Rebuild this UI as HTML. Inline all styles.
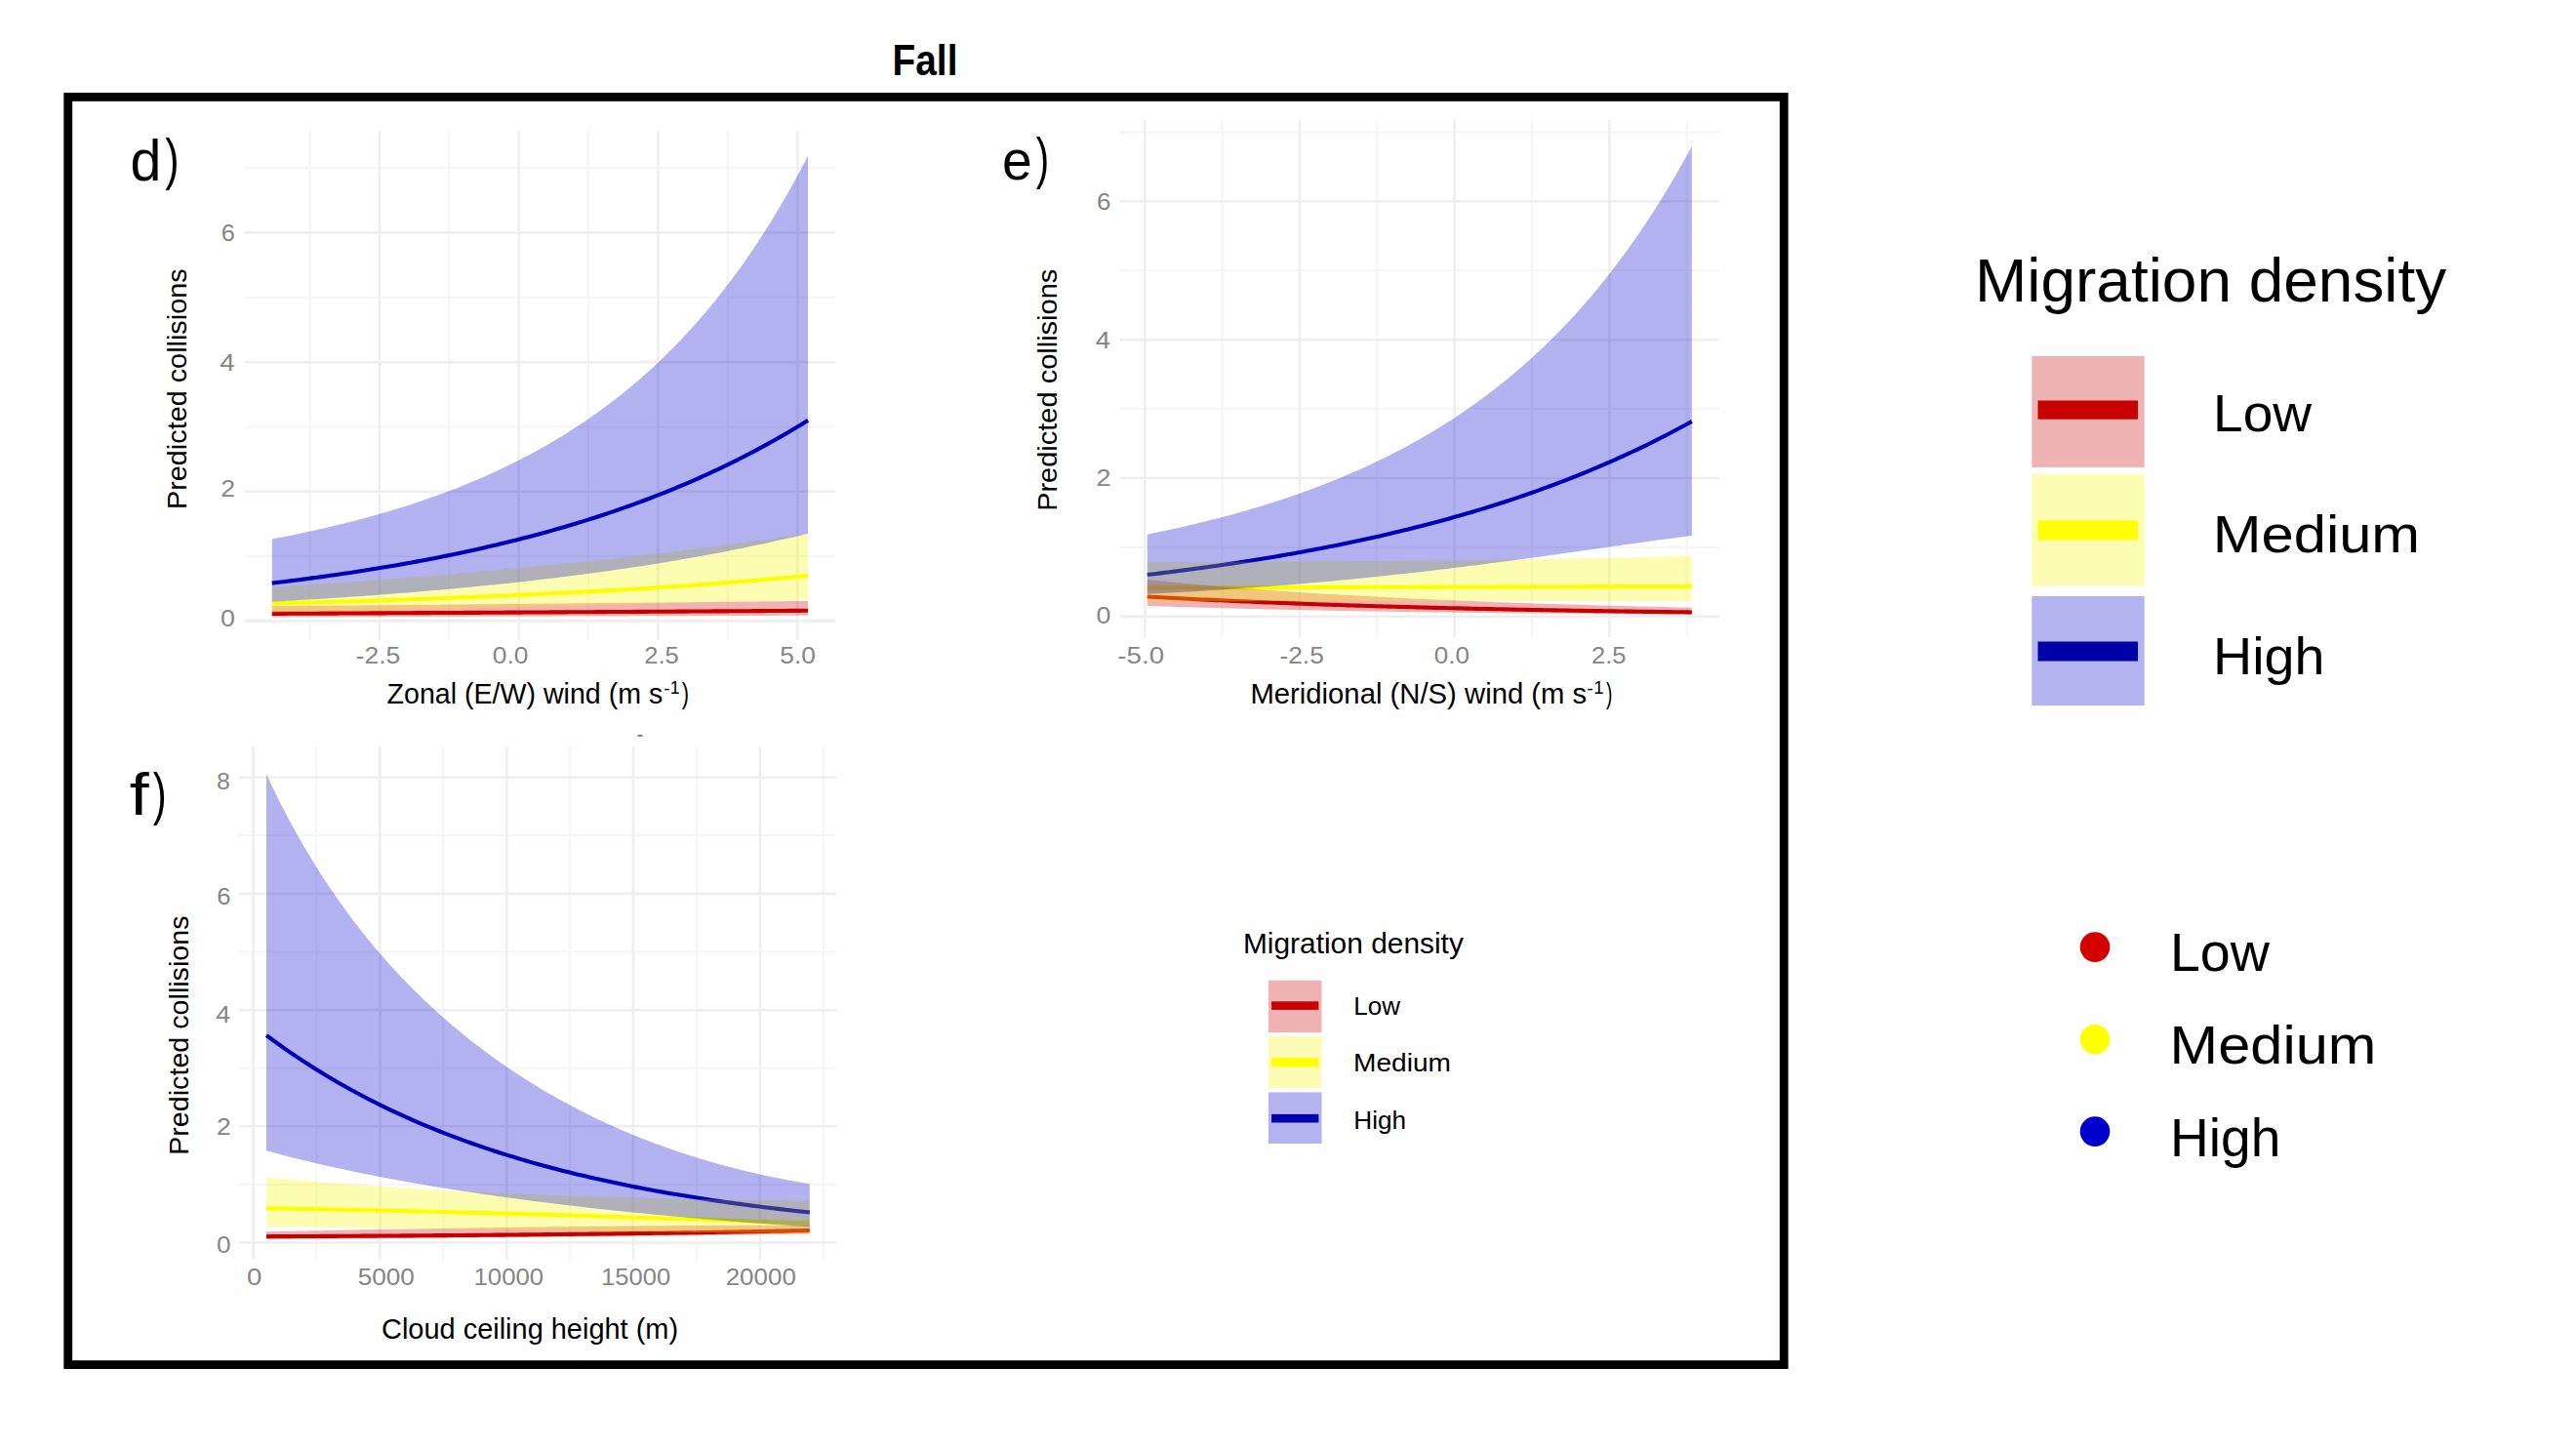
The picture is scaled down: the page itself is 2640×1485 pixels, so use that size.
<!DOCTYPE html>
<html><head><meta charset="utf-8"><title>Fall</title>
<style>html,body{margin:0;padding:0;background:#fff;}body{width:2640px;height:1485px;overflow:hidden;font-family:"Liberation Sans",sans-serif;}svg{display:block;}</style>
</head><body>
<svg width="2640" height="1485" viewBox="0 0 2640 1485" font-family="'Liberation Sans', sans-serif">
<rect x="0" y="0" width="2640" height="1485" fill="#fff"/>
<line x1="317.58" y1="134.5" x2="317.58" y2="656" stroke="#F5F5F5" stroke-width="2"/>
<line x1="460.33" y1="134.5" x2="460.33" y2="656" stroke="#F5F5F5" stroke-width="2"/>
<line x1="603.08" y1="134.5" x2="603.08" y2="656" stroke="#F5F5F5" stroke-width="2"/>
<line x1="745.83" y1="134.5" x2="745.83" y2="656" stroke="#F5F5F5" stroke-width="2"/>
<line x1="250.4" y1="570.07" x2="856" y2="570.07" stroke="#F5F5F5" stroke-width="2"/>
<line x1="250.4" y1="437.41" x2="856" y2="437.41" stroke="#F5F5F5" stroke-width="2"/>
<line x1="250.4" y1="304.75" x2="856" y2="304.75" stroke="#F5F5F5" stroke-width="2"/>
<line x1="250.4" y1="172.09" x2="856" y2="172.09" stroke="#F5F5F5" stroke-width="2"/>
<line x1="388.95" y1="134.5" x2="388.95" y2="656" stroke="#EEEEEE" stroke-width="2.6"/>
<line x1="531.70" y1="134.5" x2="531.70" y2="656" stroke="#EEEEEE" stroke-width="2.6"/>
<line x1="674.45" y1="134.5" x2="674.45" y2="656" stroke="#EEEEEE" stroke-width="2.6"/>
<line x1="817.20" y1="134.5" x2="817.20" y2="656" stroke="#EEEEEE" stroke-width="2.6"/>
<line x1="250.4" y1="636.40" x2="856" y2="636.40" stroke="#EEEEEE" stroke-width="2.6"/>
<line x1="250.4" y1="503.74" x2="856" y2="503.74" stroke="#EEEEEE" stroke-width="2.6"/>
<line x1="250.4" y1="371.08" x2="856" y2="371.08" stroke="#EEEEEE" stroke-width="2.6"/>
<line x1="250.4" y1="238.42" x2="856" y2="238.42" stroke="#EEEEEE" stroke-width="2.6"/>
<polyline points="278.75,628.90 283.36,628.88 287.98,628.86 292.59,628.84 297.21,628.82 301.83,628.79 306.44,628.77 311.06,628.75 315.67,628.73 320.29,628.70 324.91,628.68 329.52,628.66 334.14,628.64 338.75,628.61 343.37,628.59 347.99,628.57 352.60,628.55 357.22,628.52 361.83,628.50 366.45,628.48 371.07,628.45 375.68,628.43 380.30,628.41 384.91,628.38 389.53,628.36 394.15,628.34 398.76,628.31 403.38,628.29 407.99,628.27 412.61,628.24 417.23,628.22 421.84,628.19 426.46,628.17 431.07,628.15 435.69,628.12 440.31,628.10 444.92,628.07 449.54,628.05 454.15,628.02 458.77,628.00 463.39,627.98 468.00,627.95 472.62,627.93 477.23,627.90 481.85,627.88 486.47,627.85 491.08,627.83 495.70,627.80 500.31,627.78 504.93,627.75 509.55,627.73 514.16,627.70 518.78,627.67 523.39,627.65 528.01,627.62 532.63,627.60 537.24,627.57 541.86,627.55 546.47,627.52 551.09,627.49 555.71,627.47 560.32,627.44 564.94,627.42 569.55,627.39 574.17,627.36 578.79,627.34 583.40,627.31 588.02,627.28 592.63,627.26 597.25,627.23 601.87,627.20 606.48,627.18 611.10,627.15 615.71,627.12 620.33,627.10 624.95,627.07 629.56,627.04 634.18,627.01 638.79,626.99 643.41,626.96 648.03,626.93 652.64,626.90 657.26,626.87 661.87,626.85 666.49,626.82 671.11,626.79 675.72,626.76 680.34,626.73 684.95,626.71 689.57,626.68 694.19,626.65 698.80,626.62 703.42,626.59 708.03,626.56 712.65,626.53 717.27,626.51 721.88,626.48 726.50,626.45 731.11,626.42 735.73,626.39 740.35,626.36 744.96,626.33 749.58,626.30 754.19,626.27 758.81,626.24 763.43,626.21 768.04,626.18 772.66,626.15 777.27,626.12 781.89,626.09 786.51,626.06 791.12,626.03 795.74,626.00 800.35,625.97 804.97,625.94 809.59,625.91 814.20,625.88 818.82,625.85 823.43,625.82 828.05,625.79" fill="none" stroke="#C30000" stroke-width="4.1" stroke-linejoin="round"/>
<polyline points="278.75,618.49 283.36,618.37 287.98,618.26 292.59,618.14 297.21,618.02 301.83,617.90 306.44,617.78 311.06,617.65 315.67,617.53 320.29,617.40 324.91,617.27 329.52,617.14 334.14,617.01 338.75,616.88 343.37,616.75 347.99,616.61 352.60,616.48 357.22,616.34 361.83,616.20 366.45,616.06 371.07,615.92 375.68,615.78 380.30,615.63 384.91,615.48 389.53,615.34 394.15,615.19 398.76,615.03 403.38,614.88 407.99,614.73 412.61,614.57 417.23,614.41 421.84,614.25 426.46,614.09 431.07,613.93 435.69,613.76 440.31,613.60 444.92,613.43 449.54,613.26 454.15,613.08 458.77,612.91 463.39,612.73 468.00,612.55 472.62,612.37 477.23,612.19 481.85,612.01 486.47,611.82 491.08,611.63 495.70,611.44 500.31,611.25 504.93,611.05 509.55,610.86 514.16,610.66 518.78,610.46 523.39,610.25 528.01,610.05 532.63,609.84 537.24,609.63 541.86,609.41 546.47,609.20 551.09,608.98 555.71,608.76 560.32,608.54 564.94,608.31 569.55,608.08 574.17,607.85 578.79,607.62 583.40,607.38 588.02,607.15 592.63,606.90 597.25,606.66 601.87,606.41 606.48,606.16 611.10,605.91 615.71,605.66 620.33,605.40 624.95,605.14 629.56,604.87 634.18,604.60 638.79,604.33 643.41,604.06 648.03,603.78 652.64,603.50 657.26,603.22 661.87,602.93 666.49,602.64 671.11,602.35 675.72,602.05 680.34,601.75 684.95,601.45 689.57,601.14 694.19,600.83 698.80,600.51 703.42,600.19 708.03,599.87 712.65,599.54 717.27,599.21 721.88,598.88 726.50,598.54 731.11,598.20 735.73,597.85 740.35,597.50 744.96,597.15 749.58,596.79 754.19,596.42 758.81,596.06 763.43,595.68 768.04,595.31 772.66,594.93 777.27,594.54 781.89,594.15 786.51,593.75 791.12,593.35 795.74,592.95 800.35,592.54 804.97,592.12 809.59,591.70 814.20,591.28 818.82,590.85 823.43,590.41 828.05,589.97" fill="none" stroke="#FFFF00" stroke-width="4.1" stroke-linejoin="round"/>
<polyline points="278.75,597.60 283.36,597.05 287.98,596.49 292.59,595.93 297.21,595.36 301.83,594.78 306.44,594.19 311.06,593.60 315.67,592.99 320.29,592.38 324.91,591.76 329.52,591.13 334.14,590.49 338.75,589.84 343.37,589.19 347.99,588.52 352.60,587.84 357.22,587.16 361.83,586.46 366.45,585.76 371.07,585.04 375.68,584.32 380.30,583.58 384.91,582.84 389.53,582.08 394.15,581.32 398.76,580.54 403.38,579.75 407.99,578.95 412.61,578.14 417.23,577.32 421.84,576.49 426.46,575.64 431.07,574.78 435.69,573.91 440.31,573.03 444.92,572.14 449.54,571.23 454.15,570.31 458.77,569.38 463.39,568.43 468.00,567.47 472.62,566.50 477.23,565.51 481.85,564.51 486.47,563.50 491.08,562.47 495.70,561.43 500.31,560.37 504.93,559.30 509.55,558.21 514.16,557.10 518.78,555.99 523.39,554.85 528.01,553.70 532.63,552.53 537.24,551.35 541.86,550.15 546.47,548.93 551.09,547.70 555.71,546.45 560.32,545.18 564.94,543.89 569.55,542.58 574.17,541.26 578.79,539.92 583.40,538.56 588.02,537.17 592.63,535.77 597.25,534.35 601.87,532.91 606.48,531.45 611.10,529.97 615.71,528.47 620.33,526.95 624.95,525.40 629.56,523.84 634.18,522.25 638.79,520.64 643.41,519.00 648.03,517.35 652.64,515.67 657.26,513.96 661.87,512.24 666.49,510.48 671.11,508.71 675.72,506.91 680.34,505.08 684.95,503.23 689.57,501.35 694.19,499.44 698.80,497.51 703.42,495.55 708.03,493.56 712.65,491.54 717.27,489.50 721.88,487.43 726.50,485.33 731.11,483.19 735.73,481.03 740.35,478.84 744.96,476.62 749.58,474.36 754.19,472.07 758.81,469.76 763.43,467.40 768.04,465.02 772.66,462.60 777.27,460.15 781.89,457.66 786.51,455.14 791.12,452.58 795.74,449.99 800.35,447.36 804.97,444.69 809.59,441.98 814.20,439.24 818.82,436.46 823.43,433.64 828.05,430.78" fill="none" stroke="#0000B0" stroke-width="4.1" stroke-linejoin="round"/>
<polygon points="278.75,621.14 283.36,621.11 287.98,621.07 292.59,621.03 297.21,620.99 301.83,620.95 306.44,620.91 311.06,620.87 315.67,620.83 320.29,620.80 324.91,620.76 329.52,620.72 334.14,620.68 338.75,620.64 343.37,620.60 347.99,620.56 352.60,620.52 357.22,620.48 361.83,620.44 366.45,620.40 371.07,620.36 375.68,620.32 380.30,620.28 384.91,620.24 389.53,620.20 394.15,620.16 398.76,620.12 403.38,620.08 407.99,620.03 412.61,619.99 417.23,619.95 421.84,619.91 426.46,619.87 431.07,619.83 435.69,619.79 440.31,619.74 444.92,619.70 449.54,619.66 454.15,619.62 458.77,619.58 463.39,619.53 468.00,619.49 472.62,619.45 477.23,619.41 481.85,619.36 486.47,619.32 491.08,619.28 495.70,619.24 500.31,619.19 504.93,619.15 509.55,619.11 514.16,619.06 518.78,619.02 523.39,618.97 528.01,618.93 532.63,618.89 537.24,618.84 541.86,618.80 546.47,618.76 551.09,618.71 555.71,618.67 560.32,618.62 564.94,618.58 569.55,618.53 574.17,618.49 578.79,618.44 583.40,618.40 588.02,618.35 592.63,618.31 597.25,618.26 601.87,618.22 606.48,618.17 611.10,618.12 615.71,618.08 620.33,618.03 624.95,617.99 629.56,617.94 634.18,617.89 638.79,617.85 643.41,617.80 648.03,617.75 652.64,617.71 657.26,617.66 661.87,617.61 666.49,617.57 671.11,617.52 675.72,617.47 680.34,617.42 684.95,617.38 689.57,617.33 694.19,617.28 698.80,617.23 703.42,617.18 708.03,617.14 712.65,617.09 717.27,617.04 721.88,616.99 726.50,616.94 731.11,616.89 735.73,616.84 740.35,616.79 744.96,616.75 749.58,616.70 754.19,616.65 758.81,616.60 763.43,616.55 768.04,616.50 772.66,616.45 777.27,616.40 781.89,616.35 786.51,616.30 791.12,616.25 795.74,616.20 800.35,616.14 804.97,616.09 809.59,616.04 814.20,615.99 818.82,615.94 823.43,615.89 828.05,615.84 828.05,630.76 823.43,630.78 818.82,630.79 814.20,630.81 809.59,630.83 804.97,630.84 800.35,630.86 795.74,630.88 791.12,630.89 786.51,630.91 781.89,630.92 777.27,630.94 772.66,630.96 768.04,630.97 763.43,630.99 758.81,631.00 754.19,631.02 749.58,631.04 744.96,631.05 740.35,631.07 735.73,631.08 731.11,631.10 726.50,631.11 721.88,631.13 717.27,631.14 712.65,631.16 708.03,631.18 703.42,631.19 698.80,631.21 694.19,631.22 689.57,631.24 684.95,631.25 680.34,631.27 675.72,631.28 671.11,631.30 666.49,631.31 661.87,631.33 657.26,631.34 652.64,631.36 648.03,631.37 643.41,631.38 638.79,631.40 634.18,631.41 629.56,631.43 624.95,631.44 620.33,631.46 615.71,631.47 611.10,631.49 606.48,631.50 601.87,631.52 597.25,631.53 592.63,631.54 588.02,631.56 583.40,631.57 578.79,631.59 574.17,631.60 569.55,631.61 564.94,631.63 560.32,631.64 555.71,631.66 551.09,631.67 546.47,631.68 541.86,631.70 537.24,631.71 532.63,631.73 528.01,631.74 523.39,631.75 518.78,631.77 514.16,631.78 509.55,631.79 504.93,631.81 500.31,631.82 495.70,631.83 491.08,631.85 486.47,631.86 481.85,631.87 477.23,631.89 472.62,631.90 468.00,631.91 463.39,631.93 458.77,631.94 454.15,631.95 449.54,631.96 444.92,631.98 440.31,631.99 435.69,632.00 431.07,632.02 426.46,632.03 421.84,632.04 417.23,632.05 412.61,632.07 407.99,632.08 403.38,632.09 398.76,632.11 394.15,632.12 389.53,632.13 384.91,632.14 380.30,632.16 375.68,632.17 371.07,632.18 366.45,632.19 361.83,632.20 357.22,632.22 352.60,632.23 347.99,632.24 343.37,632.25 338.75,632.27 334.14,632.28 329.52,632.29 324.91,632.30 320.29,632.31 315.67,632.33 311.06,632.34 306.44,632.35 301.83,632.36 297.21,632.37 292.59,632.39 287.98,632.40 283.36,632.41 278.75,632.42" fill="#CD0000" fill-opacity="0.3"/>
<polygon points="278.75,601.51 283.36,601.22 287.98,600.93 292.59,600.64 297.21,600.35 301.83,600.05 306.44,599.75 311.06,599.45 315.67,599.15 320.29,598.84 324.91,598.53 329.52,598.22 334.14,597.91 338.75,597.60 343.37,597.28 347.99,596.96 352.60,596.64 357.22,596.31 361.83,595.99 366.45,595.66 371.07,595.32 375.68,594.99 380.30,594.65 384.91,594.31 389.53,593.97 394.15,593.63 398.76,593.28 403.38,592.93 407.99,592.58 412.61,592.22 417.23,591.86 421.84,591.50 426.46,591.14 431.07,590.77 435.69,590.41 440.31,590.03 444.92,589.66 449.54,589.28 454.15,588.90 458.77,588.52 463.39,588.14 468.00,587.75 472.62,587.36 477.23,586.96 481.85,586.57 486.47,586.17 491.08,585.76 495.70,585.36 500.31,584.95 504.93,584.54 509.55,584.12 514.16,583.70 518.78,583.28 523.39,582.86 528.01,582.43 532.63,582.00 537.24,581.57 541.86,581.13 546.47,580.69 551.09,580.25 555.71,579.80 560.32,579.35 564.94,578.90 569.55,578.44 574.17,577.98 578.79,577.52 583.40,577.05 588.02,576.58 592.63,576.11 597.25,575.63 601.87,575.15 606.48,574.67 611.10,574.18 615.71,573.69 620.33,573.19 624.95,572.70 629.56,572.19 634.18,571.69 638.79,571.18 643.41,570.67 648.03,570.15 652.64,569.63 657.26,569.11 661.87,568.58 666.49,568.05 671.11,567.51 675.72,566.97 680.34,566.43 684.95,565.88 689.57,565.33 694.19,564.78 698.80,564.22 703.42,563.66 708.03,563.09 712.65,562.52 717.27,561.95 721.88,561.37 726.50,560.78 731.11,560.20 735.73,559.60 740.35,559.01 744.96,558.41 749.58,557.81 754.19,557.20 758.81,556.58 763.43,555.97 768.04,555.35 772.66,554.72 777.27,554.09 781.89,553.45 786.51,552.81 791.12,552.17 795.74,551.52 800.35,550.87 804.97,550.21 809.59,549.55 814.20,548.88 818.82,548.21 823.43,547.54 828.05,546.85 828.05,614.51 823.43,614.64 818.82,614.76 814.20,614.89 809.59,615.01 804.97,615.14 800.35,615.26 795.74,615.39 791.12,615.51 786.51,615.64 781.89,615.76 777.27,615.89 772.66,616.01 768.04,616.14 763.43,616.26 758.81,616.38 754.19,616.51 749.58,616.63 744.96,616.75 740.35,616.88 735.73,617.00 731.11,617.12 726.50,617.25 721.88,617.37 717.27,617.49 712.65,617.61 708.03,617.73 703.42,617.85 698.80,617.98 694.19,618.10 689.57,618.22 684.95,618.34 680.34,618.46 675.72,618.58 671.11,618.70 666.49,618.82 661.87,618.94 657.26,619.05 652.64,619.17 648.03,619.29 643.41,619.41 638.79,619.53 634.18,619.64 629.56,619.76 624.95,619.88 620.33,619.99 615.71,620.11 611.10,620.23 606.48,620.34 601.87,620.46 597.25,620.57 592.63,620.68 588.02,620.80 583.40,620.91 578.79,621.03 574.17,621.14 569.55,621.25 564.94,621.36 560.32,621.47 555.71,621.59 551.09,621.70 546.47,621.81 541.86,621.92 537.24,622.03 532.63,622.14 528.01,622.24 523.39,622.35 518.78,622.46 514.16,622.57 509.55,622.68 504.93,622.78 500.31,622.89 495.70,622.99 491.08,623.10 486.47,623.21 481.85,623.31 477.23,623.41 472.62,623.52 468.00,623.62 463.39,623.72 458.77,623.83 454.15,623.93 449.54,624.03 444.92,624.13 440.31,624.23 435.69,624.33 431.07,624.43 426.46,624.53 421.84,624.63 417.23,624.73 412.61,624.82 407.99,624.92 403.38,625.02 398.76,625.11 394.15,625.21 389.53,625.31 384.91,625.40 380.30,625.49 375.68,625.59 371.07,625.68 366.45,625.78 361.83,625.87 357.22,625.96 352.60,626.05 347.99,626.14 343.37,626.23 338.75,626.32 334.14,626.41 329.52,626.50 324.91,626.59 320.29,626.68 315.67,626.76 311.06,626.85 306.44,626.94 301.83,627.02 297.21,627.11 292.59,627.19 287.98,627.28 283.36,627.36 278.75,627.45" fill="#F8F800" fill-opacity="0.3"/>
<polygon points="278.75,552.50 283.36,551.62 287.98,550.73 292.59,549.82 297.21,548.90 301.83,547.96 306.44,547.00 311.06,546.03 315.67,545.04 320.29,544.03 324.91,543.01 329.52,541.96 334.14,540.90 338.75,539.82 343.37,538.72 347.99,537.61 352.60,536.47 357.22,535.31 361.83,534.13 366.45,532.93 371.07,531.70 375.68,530.46 380.30,529.19 384.91,527.90 389.53,526.59 394.15,525.25 398.76,523.89 403.38,522.51 407.99,521.10 412.61,519.66 417.23,518.20 421.84,516.71 426.46,515.19 431.07,513.64 435.69,512.07 440.31,510.46 444.92,508.83 449.54,507.17 454.15,505.47 458.77,503.75 463.39,501.99 468.00,500.20 472.62,498.37 477.23,496.51 481.85,494.62 486.47,492.69 491.08,490.72 495.70,488.72 500.31,486.67 504.93,484.59 509.55,482.47 514.16,480.31 518.78,478.10 523.39,475.85 528.01,473.56 532.63,471.23 537.24,468.85 541.86,466.42 546.47,463.95 551.09,461.42 555.71,458.85 560.32,456.23 564.94,453.55 569.55,450.82 574.17,448.04 578.79,445.20 583.40,442.31 588.02,439.36 592.63,436.35 597.25,433.27 601.87,430.14 606.48,426.94 611.10,423.68 615.71,420.35 620.33,416.96 624.95,413.49 629.56,409.96 634.18,406.35 638.79,402.66 643.41,398.90 648.03,395.07 652.64,391.15 657.26,387.15 661.87,383.07 666.49,378.91 671.11,374.65 675.72,370.31 680.34,365.88 684.95,361.35 689.57,356.72 694.19,352.00 698.80,347.18 703.42,342.25 708.03,337.22 712.65,332.09 717.27,326.84 721.88,321.47 726.50,316.00 731.11,310.40 735.73,304.68 740.35,298.84 744.96,292.87 749.58,286.77 754.19,280.53 758.81,274.16 763.43,267.65 768.04,260.99 772.66,254.19 777.27,247.24 781.89,240.12 786.51,232.86 791.12,225.42 795.74,217.82 800.35,210.05 804.97,202.11 809.59,193.98 814.20,185.67 818.82,177.17 823.43,168.48 828.05,159.59 828.05,546.85 823.43,547.97 818.82,549.06 814.20,550.15 809.59,551.22 804.97,552.28 800.35,553.32 795.74,554.35 791.12,555.37 786.51,556.38 781.89,557.38 777.27,558.36 772.66,559.33 768.04,560.29 763.43,561.24 758.81,562.17 754.19,563.10 749.58,564.01 744.96,564.92 740.35,565.81 735.73,566.69 731.11,567.56 726.50,568.42 721.88,569.27 717.27,570.11 712.65,570.94 708.03,571.76 703.42,572.56 698.80,573.36 694.19,574.15 689.57,574.93 684.95,575.70 680.34,576.46 675.72,577.21 671.11,577.95 666.49,578.69 661.87,579.41 657.26,580.13 652.64,580.83 648.03,581.53 643.41,582.22 638.79,582.90 634.18,583.57 629.56,584.24 624.95,584.89 620.33,585.54 615.71,586.18 611.10,586.81 606.48,587.44 601.87,588.06 597.25,588.66 592.63,589.27 588.02,589.86 583.40,590.45 578.79,591.03 574.17,591.60 569.55,592.17 564.94,592.73 560.32,593.28 555.71,593.82 551.09,594.36 546.47,594.89 541.86,595.42 537.24,595.94 532.63,596.45 528.01,596.95 523.39,597.45 518.78,597.95 514.16,598.43 509.55,598.92 504.93,599.39 500.31,599.86 495.70,600.32 491.08,600.78 486.47,601.24 481.85,601.68 477.23,602.12 472.62,602.56 468.00,602.99 463.39,603.41 458.77,603.83 454.15,604.25 449.54,604.66 444.92,605.06 440.31,605.46 435.69,605.86 431.07,606.25 426.46,606.63 421.84,607.01 417.23,607.38 412.61,607.75 407.99,608.12 403.38,608.48 398.76,608.84 394.15,609.19 389.53,609.54 384.91,609.88 380.30,610.22 375.68,610.56 371.07,610.89 366.45,611.21 361.83,611.54 357.22,611.86 352.60,612.17 347.99,612.48 343.37,612.79 338.75,613.09 334.14,613.39 329.52,613.68 324.91,613.98 320.29,614.26 315.67,614.55 311.06,614.83 306.44,615.11 301.83,615.38 297.21,615.65 292.59,615.92 287.98,616.18 283.36,616.44 278.75,616.70" fill="#0000CD" fill-opacity="0.3"/>
<line x1="1252.61" y1="122.8" x2="1252.61" y2="653.3" stroke="#F5F5F5" stroke-width="2"/>
<line x1="1411.34" y1="122.8" x2="1411.34" y2="653.3" stroke="#F5F5F5" stroke-width="2"/>
<line x1="1570.06" y1="122.8" x2="1570.06" y2="653.3" stroke="#F5F5F5" stroke-width="2"/>
<line x1="1728.79" y1="122.8" x2="1728.79" y2="653.3" stroke="#F5F5F5" stroke-width="2"/>
<line x1="1147.6" y1="560.97" x2="1761.5" y2="560.97" stroke="#F5F5F5" stroke-width="2"/>
<line x1="1147.6" y1="419.11" x2="1761.5" y2="419.11" stroke="#F5F5F5" stroke-width="2"/>
<line x1="1147.6" y1="277.25" x2="1761.5" y2="277.25" stroke="#F5F5F5" stroke-width="2"/>
<line x1="1147.6" y1="135.39" x2="1761.5" y2="135.39" stroke="#F5F5F5" stroke-width="2"/>
<line x1="1173.25" y1="122.8" x2="1173.25" y2="653.3" stroke="#EEEEEE" stroke-width="2.6"/>
<line x1="1331.98" y1="122.8" x2="1331.98" y2="653.3" stroke="#EEEEEE" stroke-width="2.6"/>
<line x1="1490.70" y1="122.8" x2="1490.70" y2="653.3" stroke="#EEEEEE" stroke-width="2.6"/>
<line x1="1649.42" y1="122.8" x2="1649.42" y2="653.3" stroke="#EEEEEE" stroke-width="2.6"/>
<line x1="1147.6" y1="631.90" x2="1761.5" y2="631.90" stroke="#EEEEEE" stroke-width="2.6"/>
<line x1="1147.6" y1="490.04" x2="1761.5" y2="490.04" stroke="#EEEEEE" stroke-width="2.6"/>
<line x1="1147.6" y1="348.18" x2="1761.5" y2="348.18" stroke="#EEEEEE" stroke-width="2.6"/>
<line x1="1147.6" y1="206.32" x2="1761.5" y2="206.32" stroke="#EEEEEE" stroke-width="2.6"/>
<polyline points="1175.79,611.48 1180.48,611.74 1185.17,612.00 1189.86,612.26 1194.55,612.51 1199.24,612.77 1203.93,613.01 1208.62,613.26 1213.31,613.50 1218.00,613.74 1222.69,613.97 1227.38,614.21 1232.07,614.43 1236.76,614.66 1241.45,614.88 1246.14,615.10 1250.83,615.32 1255.51,615.53 1260.20,615.74 1264.89,615.95 1269.58,616.16 1274.27,616.36 1278.96,616.56 1283.65,616.76 1288.34,616.95 1293.03,617.15 1297.72,617.33 1302.41,617.52 1307.10,617.71 1311.79,617.89 1316.48,618.07 1321.17,618.25 1325.86,618.42 1330.55,618.59 1335.24,618.77 1339.93,618.93 1344.62,619.10 1349.31,619.26 1354.00,619.43 1358.69,619.58 1363.38,619.74 1368.07,619.90 1372.76,620.05 1377.45,620.20 1382.14,620.35 1386.83,620.50 1391.52,620.64 1396.21,620.79 1400.90,620.93 1405.59,621.07 1410.28,621.21 1414.97,621.34 1419.66,621.48 1424.34,621.61 1429.03,621.74 1433.72,621.87 1438.41,622.00 1443.10,622.12 1447.79,622.25 1452.48,622.37 1457.17,622.49 1461.86,622.61 1466.55,622.73 1471.24,622.84 1475.93,622.96 1480.62,623.07 1485.31,623.18 1490.00,623.29 1494.69,623.40 1499.38,623.51 1504.07,623.62 1508.76,623.72 1513.45,623.83 1518.14,623.93 1522.83,624.03 1527.52,624.13 1532.21,624.22 1536.90,624.32 1541.59,624.42 1546.28,624.51 1550.97,624.60 1555.66,624.70 1560.35,624.79 1565.04,624.88 1569.73,624.96 1574.42,625.05 1579.11,625.14 1583.80,625.22 1588.49,625.31 1593.17,625.39 1597.86,625.47 1602.55,625.55 1607.24,625.63 1611.93,625.71 1616.62,625.79 1621.31,625.86 1626.00,625.94 1630.69,626.01 1635.38,626.09 1640.07,626.16 1644.76,626.23 1649.45,626.30 1654.14,626.37 1658.83,626.44 1663.52,626.51 1668.21,626.58 1672.90,626.64 1677.59,626.71 1682.28,626.77 1686.97,626.84 1691.66,626.90 1696.35,626.96 1701.04,627.02 1705.73,627.08 1710.42,627.14 1715.11,627.20 1719.80,627.26 1724.49,627.32 1729.18,627.38 1733.87,627.43" fill="none" stroke="#C30000" stroke-width="4.1" stroke-linejoin="round"/>
<polyline points="1175.79,602.53 1180.48,602.51 1185.17,602.49 1189.86,602.48 1194.55,602.46 1199.24,602.45 1203.93,602.43 1208.62,602.42 1213.31,602.40 1218.00,602.38 1222.69,602.37 1227.38,602.35 1232.07,602.34 1236.76,602.32 1241.45,602.31 1246.14,602.29 1250.83,602.28 1255.51,602.26 1260.20,602.25 1264.89,602.23 1269.58,602.22 1274.27,602.20 1278.96,602.19 1283.65,602.17 1288.34,602.16 1293.03,602.14 1297.72,602.13 1302.41,602.11 1307.10,602.10 1311.79,602.08 1316.48,602.07 1321.17,602.05 1325.86,602.04 1330.55,602.02 1335.24,602.01 1339.93,601.99 1344.62,601.98 1349.31,601.96 1354.00,601.95 1358.69,601.93 1363.38,601.92 1368.07,601.90 1372.76,601.89 1377.45,601.88 1382.14,601.86 1386.83,601.85 1391.52,601.83 1396.21,601.82 1400.90,601.81 1405.59,601.79 1410.28,601.78 1414.97,601.76 1419.66,601.75 1424.34,601.74 1429.03,601.72 1433.72,601.71 1438.41,601.69 1443.10,601.68 1447.79,601.67 1452.48,601.65 1457.17,601.64 1461.86,601.62 1466.55,601.61 1471.24,601.60 1475.93,601.58 1480.62,601.57 1485.31,601.56 1490.00,601.54 1494.69,601.53 1499.38,601.52 1504.07,601.50 1508.76,601.49 1513.45,601.48 1518.14,601.46 1522.83,601.45 1527.52,601.44 1532.21,601.43 1536.90,601.41 1541.59,601.40 1546.28,601.39 1550.97,601.37 1555.66,601.36 1560.35,601.35 1565.04,601.34 1569.73,601.32 1574.42,601.31 1579.11,601.30 1583.80,601.28 1588.49,601.27 1593.17,601.26 1597.86,601.25 1602.55,601.23 1607.24,601.22 1611.93,601.21 1616.62,601.20 1621.31,601.19 1626.00,601.17 1630.69,601.16 1635.38,601.15 1640.07,601.14 1644.76,601.12 1649.45,601.11 1654.14,601.10 1658.83,601.09 1663.52,601.08 1668.21,601.06 1672.90,601.05 1677.59,601.04 1682.28,601.03 1686.97,601.02 1691.66,601.01 1696.35,600.99 1701.04,600.98 1705.73,600.97 1710.42,600.96 1715.11,600.95 1719.80,600.94 1724.49,600.93 1729.18,600.91 1733.87,600.90" fill="none" stroke="#FFFF00" stroke-width="4.1" stroke-linejoin="round"/>
<polyline points="1175.79,589.04 1180.48,588.49 1185.17,587.93 1189.86,587.36 1194.55,586.78 1199.24,586.19 1203.93,585.60 1208.62,585.00 1213.31,584.39 1218.00,583.78 1222.69,583.15 1227.38,582.52 1232.07,581.88 1236.76,581.23 1241.45,580.57 1246.14,579.91 1250.83,579.23 1255.51,578.55 1260.20,577.86 1264.89,577.16 1269.58,576.44 1274.27,575.72 1278.96,575.00 1283.65,574.26 1288.34,573.51 1293.03,572.75 1297.72,571.98 1302.41,571.20 1307.10,570.41 1311.79,569.62 1316.48,568.81 1321.17,567.99 1325.86,567.16 1330.55,566.31 1335.24,565.46 1339.93,564.60 1344.62,563.72 1349.31,562.84 1354.00,561.94 1358.69,561.03 1363.38,560.11 1368.07,559.17 1372.76,558.23 1377.45,557.27 1382.14,556.30 1386.83,555.31 1391.52,554.32 1396.21,553.31 1400.90,552.28 1405.59,551.25 1410.28,550.20 1414.97,549.13 1419.66,548.06 1424.34,546.96 1429.03,545.86 1433.72,544.74 1438.41,543.60 1443.10,542.45 1447.79,541.29 1452.48,540.11 1457.17,538.91 1461.86,537.70 1466.55,536.47 1471.24,535.23 1475.93,533.97 1480.62,532.69 1485.31,531.40 1490.00,530.09 1494.69,528.76 1499.38,527.41 1504.07,526.05 1508.76,524.67 1513.45,523.27 1518.14,521.85 1522.83,520.42 1527.52,518.96 1532.21,517.49 1536.90,516.00 1541.59,514.48 1546.28,512.95 1550.97,511.40 1555.66,509.82 1560.35,508.23 1565.04,506.62 1569.73,504.98 1574.42,503.32 1579.11,501.64 1583.80,499.94 1588.49,498.22 1593.17,496.47 1597.86,494.70 1602.55,492.91 1607.24,491.09 1611.93,489.25 1616.62,487.39 1621.31,485.50 1626.00,483.58 1630.69,481.64 1635.38,479.68 1640.07,477.69 1644.76,475.67 1649.45,473.63 1654.14,471.56 1658.83,469.46 1663.52,467.33 1668.21,465.18 1672.90,463.00 1677.59,460.79 1682.28,458.55 1686.97,456.28 1691.66,453.98 1696.35,451.65 1701.04,449.29 1705.73,446.90 1710.42,444.48 1715.11,442.02 1719.80,439.54 1724.49,437.02 1729.18,434.46 1733.87,431.88" fill="none" stroke="#0000B0" stroke-width="4.1" stroke-linejoin="round"/>
<polygon points="1175.79,594.06 1180.48,594.54 1185.17,595.02 1189.86,595.49 1194.55,595.95 1199.24,596.41 1203.93,596.86 1208.62,597.30 1213.31,597.74 1218.00,598.17 1222.69,598.59 1227.38,599.01 1232.07,599.42 1236.76,599.83 1241.45,600.23 1246.14,600.63 1250.83,601.02 1255.51,601.41 1260.20,601.79 1264.89,602.16 1269.58,602.53 1274.27,602.90 1278.96,603.26 1283.65,603.61 1288.34,603.96 1293.03,604.31 1297.72,604.65 1302.41,604.99 1307.10,605.32 1311.79,605.64 1316.48,605.97 1321.17,606.28 1325.86,606.60 1330.55,606.91 1335.24,607.21 1339.93,607.51 1344.62,607.81 1349.31,608.11 1354.00,608.39 1358.69,608.68 1363.38,608.96 1368.07,609.24 1372.76,609.51 1377.45,609.78 1382.14,610.05 1386.83,610.31 1391.52,610.57 1396.21,610.83 1400.90,611.08 1405.59,611.33 1410.28,611.58 1414.97,611.82 1419.66,612.06 1424.34,612.30 1429.03,612.53 1433.72,612.76 1438.41,612.99 1443.10,613.21 1447.79,613.43 1452.48,613.65 1457.17,613.87 1461.86,614.08 1466.55,614.29 1471.24,614.50 1475.93,614.70 1480.62,614.90 1485.31,615.10 1490.00,615.30 1494.69,615.49 1499.38,615.68 1504.07,615.87 1508.76,616.06 1513.45,616.24 1518.14,616.42 1522.83,616.60 1527.52,616.78 1532.21,616.95 1536.90,617.13 1541.59,617.30 1546.28,617.47 1550.97,617.63 1555.66,617.79 1560.35,617.96 1565.04,618.12 1569.73,618.27 1574.42,618.43 1579.11,618.58 1583.80,618.73 1588.49,618.88 1593.17,619.03 1597.86,619.18 1602.55,619.32 1607.24,619.46 1611.93,619.60 1616.62,619.74 1621.31,619.88 1626.00,620.01 1630.69,620.15 1635.38,620.28 1640.07,620.41 1644.76,620.54 1649.45,620.66 1654.14,620.79 1658.83,620.91 1663.52,621.03 1668.21,621.16 1672.90,621.27 1677.59,621.39 1682.28,621.51 1686.97,621.62 1691.66,621.74 1696.35,621.85 1701.04,621.96 1705.73,622.07 1710.42,622.17 1715.11,622.28 1719.80,622.39 1724.49,622.49 1729.18,622.59 1733.87,622.69 1733.87,629.77 1729.18,629.74 1724.49,629.72 1719.80,629.69 1715.11,629.66 1710.42,629.63 1705.73,629.60 1701.04,629.57 1696.35,629.54 1691.66,629.51 1686.97,629.48 1682.28,629.45 1677.59,629.41 1672.90,629.38 1668.21,629.35 1663.52,629.31 1658.83,629.28 1654.14,629.25 1649.45,629.21 1644.76,629.18 1640.07,629.14 1635.38,629.10 1630.69,629.07 1626.00,629.03 1621.31,628.99 1616.62,628.95 1611.93,628.91 1607.24,628.87 1602.55,628.83 1597.86,628.79 1593.17,628.75 1588.49,628.71 1583.80,628.66 1579.11,628.62 1574.42,628.58 1569.73,628.53 1565.04,628.49 1560.35,628.44 1555.66,628.39 1550.97,628.35 1546.28,628.30 1541.59,628.25 1536.90,628.20 1532.21,628.15 1527.52,628.10 1522.83,628.05 1518.14,627.99 1513.45,627.94 1508.76,627.89 1504.07,627.83 1499.38,627.78 1494.69,627.72 1490.00,627.66 1485.31,627.60 1480.62,627.54 1475.93,627.49 1471.24,627.42 1466.55,627.36 1461.86,627.30 1457.17,627.24 1452.48,627.17 1447.79,627.11 1443.10,627.04 1438.41,626.97 1433.72,626.90 1429.03,626.83 1424.34,626.76 1419.66,626.69 1414.97,626.62 1410.28,626.55 1405.59,626.47 1400.90,626.40 1396.21,626.32 1391.52,626.24 1386.83,626.16 1382.14,626.08 1377.45,626.00 1372.76,625.92 1368.07,625.83 1363.38,625.75 1358.69,625.66 1354.00,625.57 1349.31,625.48 1344.62,625.39 1339.93,625.30 1335.24,625.20 1330.55,625.11 1325.86,625.01 1321.17,624.91 1316.48,624.81 1311.79,624.71 1307.10,624.61 1302.41,624.51 1297.72,624.40 1293.03,624.29 1288.34,624.18 1283.65,624.07 1278.96,623.96 1274.27,623.85 1269.58,623.73 1264.89,623.61 1260.20,623.49 1255.51,623.37 1250.83,623.25 1246.14,623.12 1241.45,623.00 1236.76,622.87 1232.07,622.74 1227.38,622.60 1222.69,622.47 1218.00,622.33 1213.31,622.19 1208.62,622.05 1203.93,621.90 1199.24,621.76 1194.55,621.61 1189.86,621.46 1185.17,621.31 1180.48,621.15 1175.79,620.99" fill="#CD0000" fill-opacity="0.3"/>
<polygon points="1175.79,575.87 1180.48,575.87 1185.17,575.87 1189.86,575.87 1194.55,575.87 1199.24,575.87 1203.93,575.87 1208.62,575.86 1213.31,575.86 1218.00,575.86 1222.69,575.85 1227.38,575.84 1232.07,575.84 1236.76,575.83 1241.45,575.82 1246.14,575.81 1250.83,575.80 1255.51,575.79 1260.20,575.78 1264.89,575.76 1269.58,575.75 1274.27,575.73 1278.96,575.72 1283.65,575.70 1288.34,575.68 1293.03,575.67 1297.72,575.65 1302.41,575.63 1307.10,575.61 1311.79,575.58 1316.48,575.56 1321.17,575.54 1325.86,575.51 1330.55,575.49 1335.24,575.46 1339.93,575.43 1344.62,575.41 1349.31,575.38 1354.00,575.35 1358.69,575.32 1363.38,575.29 1368.07,575.25 1372.76,575.22 1377.45,575.19 1382.14,575.15 1386.83,575.12 1391.52,575.08 1396.21,575.04 1400.90,575.00 1405.59,574.96 1410.28,574.92 1414.97,574.88 1419.66,574.84 1424.34,574.80 1429.03,574.75 1433.72,574.71 1438.41,574.66 1443.10,574.62 1447.79,574.57 1452.48,574.52 1457.17,574.47 1461.86,574.42 1466.55,574.37 1471.24,574.32 1475.93,574.26 1480.62,574.21 1485.31,574.16 1490.00,574.10 1494.69,574.04 1499.38,573.99 1504.07,573.93 1508.76,573.87 1513.45,573.81 1518.14,573.75 1522.83,573.68 1527.52,573.62 1532.21,573.56 1536.90,573.49 1541.59,573.42 1546.28,573.36 1550.97,573.29 1555.66,573.22 1560.35,573.15 1565.04,573.08 1569.73,573.01 1574.42,572.93 1579.11,572.86 1583.80,572.78 1588.49,572.71 1593.17,572.63 1597.86,572.55 1602.55,572.47 1607.24,572.39 1611.93,572.31 1616.62,572.23 1621.31,572.15 1626.00,572.06 1630.69,571.98 1635.38,571.89 1640.07,571.81 1644.76,571.72 1649.45,571.63 1654.14,571.54 1658.83,571.45 1663.52,571.35 1668.21,571.26 1672.90,571.17 1677.59,571.07 1682.28,570.97 1686.97,570.88 1691.66,570.78 1696.35,570.68 1701.04,570.58 1705.73,570.47 1710.42,570.37 1715.11,570.27 1719.80,570.16 1724.49,570.05 1729.18,569.95 1733.87,569.84 1733.87,615.94 1729.18,615.94 1724.49,615.94 1719.80,615.93 1715.11,615.93 1710.42,615.93 1705.73,615.93 1701.04,615.93 1696.35,615.93 1691.66,615.92 1686.97,615.92 1682.28,615.92 1677.59,615.92 1672.90,615.92 1668.21,615.92 1663.52,615.92 1658.83,615.92 1654.14,615.91 1649.45,615.91 1644.76,615.91 1640.07,615.91 1635.38,615.91 1630.69,615.91 1626.00,615.91 1621.31,615.91 1616.62,615.91 1611.93,615.91 1607.24,615.91 1602.55,615.91 1597.86,615.91 1593.17,615.91 1588.49,615.91 1583.80,615.91 1579.11,615.91 1574.42,615.91 1569.73,615.91 1565.04,615.92 1560.35,615.92 1555.66,615.92 1550.97,615.92 1546.28,615.92 1541.59,615.92 1536.90,615.92 1532.21,615.92 1527.52,615.93 1522.83,615.93 1518.14,615.93 1513.45,615.93 1508.76,615.93 1504.07,615.93 1499.38,615.94 1494.69,615.94 1490.00,615.94 1485.31,615.94 1480.62,615.95 1475.93,615.95 1471.24,615.95 1466.55,615.95 1461.86,615.96 1457.17,615.96 1452.48,615.96 1447.79,615.97 1443.10,615.97 1438.41,615.97 1433.72,615.98 1429.03,615.98 1424.34,615.98 1419.66,615.99 1414.97,615.99 1410.28,615.99 1405.59,616.00 1400.90,616.00 1396.21,616.00 1391.52,616.01 1386.83,616.01 1382.14,616.02 1377.45,616.02 1372.76,616.03 1368.07,616.03 1363.38,616.04 1358.69,616.04 1354.00,616.05 1349.31,616.05 1344.62,616.05 1339.93,616.06 1335.24,616.07 1330.55,616.07 1325.86,616.08 1321.17,616.08 1316.48,616.09 1311.79,616.09 1307.10,616.10 1302.41,616.10 1297.72,616.11 1293.03,616.12 1288.34,616.12 1283.65,616.13 1278.96,616.13 1274.27,616.14 1269.58,616.15 1264.89,616.15 1260.20,616.16 1255.51,616.17 1250.83,616.17 1246.14,616.18 1241.45,616.19 1236.76,616.19 1232.07,616.20 1227.38,616.21 1222.69,616.21 1218.00,616.22 1213.31,616.23 1208.62,616.24 1203.93,616.24 1199.24,616.25 1194.55,616.26 1189.86,616.27 1185.17,616.28 1180.48,616.28 1175.79,616.29" fill="#F8F800" fill-opacity="0.3"/>
<polygon points="1175.79,547.70 1180.48,546.75 1185.17,545.78 1189.86,544.80 1194.55,543.80 1199.24,542.79 1203.93,541.76 1208.62,540.71 1213.31,539.64 1218.00,538.56 1222.69,537.45 1227.38,536.33 1232.07,535.19 1236.76,534.03 1241.45,532.85 1246.14,531.65 1250.83,530.43 1255.51,529.19 1260.20,527.93 1264.89,526.64 1269.58,525.34 1274.27,524.01 1278.96,522.66 1283.65,521.28 1288.34,519.88 1293.03,518.46 1297.72,517.01 1302.41,515.54 1307.10,514.04 1311.79,512.51 1316.48,510.96 1321.17,509.38 1325.86,507.77 1330.55,506.13 1335.24,504.47 1339.93,502.77 1344.62,501.05 1349.31,499.29 1354.00,497.50 1358.69,495.68 1363.38,493.83 1368.07,491.95 1372.76,490.03 1377.45,488.07 1382.14,486.08 1386.83,484.05 1391.52,481.99 1396.21,479.89 1400.90,477.75 1405.59,475.57 1410.28,473.35 1414.97,471.09 1419.66,468.79 1424.34,466.45 1429.03,464.06 1433.72,461.63 1438.41,459.15 1443.10,456.63 1447.79,454.06 1452.48,451.44 1457.17,448.77 1461.86,446.06 1466.55,443.29 1471.24,440.47 1475.93,437.59 1480.62,434.66 1485.31,431.68 1490.00,428.63 1494.69,425.53 1499.38,422.37 1504.07,419.15 1508.76,415.87 1513.45,412.52 1518.14,409.11 1522.83,405.64 1527.52,402.09 1532.21,398.48 1536.90,394.79 1541.59,391.04 1546.28,387.21 1550.97,383.30 1555.66,379.32 1560.35,375.26 1565.04,371.12 1569.73,366.89 1574.42,362.59 1579.11,358.19 1583.80,353.71 1588.49,349.14 1593.17,344.48 1597.86,339.73 1602.55,334.87 1607.24,329.93 1611.93,324.88 1616.62,319.72 1621.31,314.47 1626.00,309.10 1630.69,303.63 1635.38,298.05 1640.07,292.35 1644.76,286.53 1649.45,280.59 1654.14,274.53 1658.83,268.35 1663.52,262.04 1668.21,255.59 1672.90,249.01 1677.59,242.30 1682.28,235.44 1686.97,228.44 1691.66,221.30 1696.35,214.00 1701.04,206.55 1705.73,198.94 1710.42,191.17 1715.11,183.23 1719.80,175.13 1724.49,166.85 1729.18,158.40 1733.87,149.76 1733.87,548.93 1729.18,549.54 1724.49,550.15 1719.80,550.77 1715.11,551.39 1710.42,552.02 1705.73,552.66 1701.04,553.29 1696.35,553.93 1691.66,554.58 1686.97,555.23 1682.28,555.88 1677.59,556.53 1672.90,557.18 1668.21,557.84 1663.52,558.50 1658.83,559.16 1654.14,559.82 1649.45,560.49 1644.76,561.15 1640.07,561.82 1635.38,562.48 1630.69,563.14 1626.00,563.81 1621.31,564.47 1616.62,565.13 1611.93,565.80 1607.24,566.46 1602.55,567.12 1597.86,567.77 1593.17,568.43 1588.49,569.08 1583.80,569.73 1579.11,570.38 1574.42,571.03 1569.73,571.67 1565.04,572.31 1560.35,572.95 1555.66,573.59 1550.97,574.22 1546.28,574.85 1541.59,575.47 1536.90,576.09 1532.21,576.71 1527.52,577.32 1522.83,577.93 1518.14,578.53 1513.45,579.13 1508.76,579.73 1504.07,580.32 1499.38,580.91 1494.69,581.49 1490.00,582.07 1485.31,582.64 1480.62,583.21 1475.93,583.77 1471.24,584.33 1466.55,584.88 1461.86,585.43 1457.17,585.97 1452.48,586.50 1447.79,587.04 1443.10,587.56 1438.41,588.08 1433.72,588.60 1429.03,589.11 1424.34,589.61 1419.66,590.11 1414.97,590.61 1410.28,591.09 1405.59,591.58 1400.90,592.05 1396.21,592.53 1391.52,592.99 1386.83,593.45 1382.14,593.91 1377.45,594.36 1372.76,594.80 1368.07,595.24 1363.38,595.67 1358.69,596.10 1354.00,596.52 1349.31,596.94 1344.62,597.35 1339.93,597.75 1335.24,598.15 1330.55,598.55 1325.86,598.93 1321.17,599.32 1316.48,599.70 1311.79,600.07 1307.10,600.44 1302.41,600.80 1297.72,601.16 1293.03,601.51 1288.34,601.86 1283.65,602.20 1278.96,602.53 1274.27,602.87 1269.58,603.19 1264.89,603.51 1260.20,603.83 1255.51,604.14 1250.83,604.45 1246.14,604.75 1241.45,605.05 1236.76,605.34 1232.07,605.63 1227.38,605.91 1222.69,606.19 1218.00,606.46 1213.31,606.73 1208.62,607.00 1203.93,607.26 1199.24,607.51 1194.55,607.76 1189.86,608.01 1185.17,608.25 1180.48,608.49 1175.79,608.72" fill="#0000CD" fill-opacity="0.3"/>
<line x1="324.43" y1="765" x2="324.43" y2="1291.2" stroke="#F5F5F5" stroke-width="2"/>
<line x1="454.27" y1="765" x2="454.27" y2="1291.2" stroke="#F5F5F5" stroke-width="2"/>
<line x1="584.12" y1="765" x2="584.12" y2="1291.2" stroke="#F5F5F5" stroke-width="2"/>
<line x1="713.97" y1="765" x2="713.97" y2="1291.2" stroke="#F5F5F5" stroke-width="2"/>
<line x1="843.82" y1="765" x2="843.82" y2="1291.2" stroke="#F5F5F5" stroke-width="2"/>
<line x1="244.9" y1="1213.90" x2="857.2" y2="1213.90" stroke="#F5F5F5" stroke-width="2"/>
<line x1="244.9" y1="1094.70" x2="857.2" y2="1094.70" stroke="#F5F5F5" stroke-width="2"/>
<line x1="244.9" y1="975.50" x2="857.2" y2="975.50" stroke="#F5F5F5" stroke-width="2"/>
<line x1="244.9" y1="856.30" x2="857.2" y2="856.30" stroke="#F5F5F5" stroke-width="2"/>
<line x1="259.50" y1="765" x2="259.50" y2="1291.2" stroke="#EEEEEE" stroke-width="2.6"/>
<line x1="389.35" y1="765" x2="389.35" y2="1291.2" stroke="#EEEEEE" stroke-width="2.6"/>
<line x1="519.20" y1="765" x2="519.20" y2="1291.2" stroke="#EEEEEE" stroke-width="2.6"/>
<line x1="649.05" y1="765" x2="649.05" y2="1291.2" stroke="#EEEEEE" stroke-width="2.6"/>
<line x1="778.90" y1="765" x2="778.90" y2="1291.2" stroke="#EEEEEE" stroke-width="2.6"/>
<line x1="244.9" y1="1273.50" x2="857.2" y2="1273.50" stroke="#EEEEEE" stroke-width="2.6"/>
<line x1="244.9" y1="1154.30" x2="857.2" y2="1154.30" stroke="#EEEEEE" stroke-width="2.6"/>
<line x1="244.9" y1="1035.10" x2="857.2" y2="1035.10" stroke="#EEEEEE" stroke-width="2.6"/>
<line x1="244.9" y1="915.90" x2="857.2" y2="915.90" stroke="#EEEEEE" stroke-width="2.6"/>
<line x1="244.9" y1="796.70" x2="857.2" y2="796.70" stroke="#EEEEEE" stroke-width="2.6"/>
<polyline points="273.00,1267.18 277.68,1267.16 282.36,1267.14 287.04,1267.12 291.72,1267.10 296.40,1267.08 301.08,1267.05 305.76,1267.03 310.44,1267.01 315.12,1266.98 319.79,1266.96 324.47,1266.94 329.15,1266.91 333.83,1266.89 338.51,1266.86 343.19,1266.84 347.87,1266.81 352.55,1266.78 357.23,1266.76 361.90,1266.73 366.58,1266.70 371.26,1266.67 375.94,1266.64 380.62,1266.62 385.30,1266.59 389.98,1266.56 394.66,1266.53 399.34,1266.50 404.02,1266.47 408.69,1266.43 413.37,1266.40 418.05,1266.37 422.73,1266.34 427.41,1266.30 432.09,1266.27 436.77,1266.24 441.45,1266.20 446.13,1266.17 450.81,1266.13 455.48,1266.10 460.16,1266.06 464.84,1266.02 469.52,1265.99 474.20,1265.95 478.88,1265.91 483.56,1265.87 488.24,1265.83 492.92,1265.79 497.59,1265.75 502.27,1265.71 506.95,1265.67 511.63,1265.63 516.31,1265.58 520.99,1265.54 525.67,1265.50 530.35,1265.45 535.03,1265.41 539.71,1265.36 544.38,1265.31 549.06,1265.27 553.74,1265.22 558.42,1265.17 563.10,1265.12 567.78,1265.07 572.46,1265.02 577.14,1264.97 581.82,1264.92 586.50,1264.87 591.17,1264.82 595.85,1264.76 600.53,1264.71 605.21,1264.66 609.89,1264.60 614.57,1264.54 619.25,1264.49 623.93,1264.43 628.61,1264.37 633.28,1264.31 637.96,1264.25 642.64,1264.19 647.32,1264.13 652.00,1264.07 656.68,1264.00 661.36,1263.94 666.04,1263.88 670.72,1263.81 675.40,1263.74 680.07,1263.68 684.75,1263.61 689.43,1263.54 694.11,1263.47 698.79,1263.40 703.47,1263.33 708.15,1263.25 712.83,1263.18 717.51,1263.11 722.19,1263.03 726.86,1262.95 731.54,1262.87 736.22,1262.80 740.90,1262.72 745.58,1262.64 750.26,1262.55 754.94,1262.47 759.62,1262.39 764.30,1262.30 768.97,1262.22 773.65,1262.13 778.33,1262.04 783.01,1261.95 787.69,1261.86 792.37,1261.77 797.05,1261.67 801.73,1261.58 806.41,1261.48 811.09,1261.39 815.76,1261.29 820.44,1261.19 825.12,1261.09 829.80,1260.98" fill="none" stroke="#C30000" stroke-width="4.1" stroke-linejoin="round"/>
<polyline points="273.00,1238.36 277.68,1238.43 282.36,1238.50 287.04,1238.57 291.72,1238.64 296.40,1238.72 301.08,1238.80 305.76,1238.87 310.44,1238.95 315.12,1239.03 319.79,1239.11 324.47,1239.20 329.15,1239.28 333.83,1239.37 338.51,1239.46 343.19,1239.54 347.87,1239.63 352.55,1239.73 357.23,1239.82 361.90,1239.91 366.58,1240.01 371.26,1240.10 375.94,1240.20 380.62,1240.30 385.30,1240.40 389.98,1240.50 394.66,1240.61 399.34,1240.71 404.02,1240.81 408.69,1240.92 413.37,1241.03 418.05,1241.14 422.73,1241.25 427.41,1241.36 432.09,1241.47 436.77,1241.58 441.45,1241.70 446.13,1241.81 450.81,1241.93 455.48,1242.05 460.16,1242.16 464.84,1242.28 469.52,1242.40 474.20,1242.52 478.88,1242.65 483.56,1242.77 488.24,1242.89 492.92,1243.02 497.59,1243.15 502.27,1243.27 506.95,1243.40 511.63,1243.53 516.31,1243.66 520.99,1243.79 525.67,1243.92 530.35,1244.05 535.03,1244.18 539.71,1244.32 544.38,1244.45 549.06,1244.59 553.74,1244.72 558.42,1244.86 563.10,1244.99 567.78,1245.13 572.46,1245.27 577.14,1245.41 581.82,1245.55 586.50,1245.69 591.17,1245.83 595.85,1245.97 600.53,1246.11 605.21,1246.25 609.89,1246.40 614.57,1246.54 619.25,1246.68 623.93,1246.83 628.61,1246.97 633.28,1247.12 637.96,1247.26 642.64,1247.41 647.32,1247.56 652.00,1247.70 656.68,1247.85 661.36,1248.00 666.04,1248.15 670.72,1248.29 675.40,1248.44 680.07,1248.59 684.75,1248.74 689.43,1248.89 694.11,1249.04 698.79,1249.19 703.47,1249.34 708.15,1249.49 712.83,1249.64 717.51,1249.79 722.19,1249.94 726.86,1250.09 731.54,1250.24 736.22,1250.39 740.90,1250.54 745.58,1250.69 750.26,1250.85 754.94,1251.00 759.62,1251.15 764.30,1251.30 768.97,1251.45 773.65,1251.60 778.33,1251.75 783.01,1251.90 787.69,1252.05 792.37,1252.21 797.05,1252.36 801.73,1252.51 806.41,1252.66 811.09,1252.81 815.76,1252.96 820.44,1253.11 825.12,1253.26 829.80,1253.41" fill="none" stroke="#FFFF00" stroke-width="4.1" stroke-linejoin="round"/>
<polyline points="273.00,1061.03 277.68,1064.50 282.36,1067.91 287.04,1071.27 291.72,1074.57 296.40,1077.82 301.08,1081.01 305.76,1084.15 310.44,1087.24 315.12,1090.27 319.79,1093.26 324.47,1096.20 329.15,1099.08 333.83,1101.92 338.51,1104.72 343.19,1107.46 347.87,1110.16 352.55,1112.82 357.23,1115.43 361.90,1118.00 366.58,1120.53 371.26,1123.01 375.94,1125.45 380.62,1127.86 385.30,1130.22 389.98,1132.54 394.66,1134.83 399.34,1137.08 404.02,1139.29 408.69,1141.46 413.37,1143.60 418.05,1145.70 422.73,1147.77 427.41,1149.81 432.09,1151.81 436.77,1153.78 441.45,1155.71 446.13,1157.62 450.81,1159.49 455.48,1161.33 460.16,1163.14 464.84,1164.92 469.52,1166.67 474.20,1168.40 478.88,1170.09 483.56,1171.76 488.24,1173.40 492.92,1175.01 497.59,1176.60 502.27,1178.16 506.95,1179.69 511.63,1181.20 516.31,1182.69 520.99,1184.15 525.67,1185.58 530.35,1187.00 535.03,1188.39 539.71,1189.75 544.38,1191.10 549.06,1192.42 553.74,1193.72 558.42,1195.00 563.10,1196.26 567.78,1197.50 572.46,1198.72 577.14,1199.92 581.82,1201.09 586.50,1202.25 591.17,1203.39 595.85,1204.52 600.53,1205.62 605.21,1206.71 609.89,1207.77 614.57,1208.82 619.25,1209.86 623.93,1210.87 628.61,1211.87 633.28,1212.86 637.96,1213.82 642.64,1214.78 647.32,1215.71 652.00,1216.63 656.68,1217.54 661.36,1218.43 666.04,1219.31 670.72,1220.17 675.40,1221.02 680.07,1221.86 684.75,1222.68 689.43,1223.49 694.11,1224.28 698.79,1225.06 703.47,1225.83 708.15,1226.59 712.83,1227.33 717.51,1228.07 722.19,1228.79 726.86,1229.50 731.54,1230.20 736.22,1230.88 740.90,1231.56 745.58,1232.22 750.26,1232.88 754.94,1233.52 759.62,1234.15 764.30,1234.77 768.97,1235.39 773.65,1235.99 778.33,1236.58 783.01,1237.17 787.69,1237.74 792.37,1238.31 797.05,1238.86 801.73,1239.41 806.41,1239.95 811.09,1240.47 815.76,1241.00 820.44,1241.51 825.12,1242.01 829.80,1242.51" fill="none" stroke="#0000B0" stroke-width="4.1" stroke-linejoin="round"/>
<polygon points="273.00,1262.18 277.68,1262.09 282.36,1262.00 287.04,1261.91 291.72,1261.83 296.40,1261.74 301.08,1261.65 305.76,1261.56 310.44,1261.48 315.12,1261.39 319.79,1261.30 324.47,1261.22 329.15,1261.13 333.83,1261.05 338.51,1260.96 343.19,1260.88 347.87,1260.79 352.55,1260.71 357.23,1260.62 361.90,1260.54 366.58,1260.45 371.26,1260.37 375.94,1260.29 380.62,1260.20 385.30,1260.12 389.98,1260.04 394.66,1259.96 399.34,1259.87 404.02,1259.79 408.69,1259.71 413.37,1259.63 418.05,1259.55 422.73,1259.47 427.41,1259.39 432.09,1259.31 436.77,1259.24 441.45,1259.16 446.13,1259.08 450.81,1259.01 455.48,1258.93 460.16,1258.86 464.84,1258.78 469.52,1258.71 474.20,1258.63 478.88,1258.56 483.56,1258.49 488.24,1258.42 492.92,1258.35 497.59,1258.28 502.27,1258.21 506.95,1258.14 511.63,1258.07 516.31,1258.00 520.99,1257.93 525.67,1257.87 530.35,1257.80 535.03,1257.74 539.71,1257.67 544.38,1257.61 549.06,1257.55 553.74,1257.49 558.42,1257.43 563.10,1257.37 567.78,1257.31 572.46,1257.25 577.14,1257.19 581.82,1257.14 586.50,1257.08 591.17,1257.03 595.85,1256.97 600.53,1256.92 605.21,1256.87 609.89,1256.82 614.57,1256.77 619.25,1256.72 623.93,1256.67 628.61,1256.63 633.28,1256.58 637.96,1256.53 642.64,1256.49 647.32,1256.45 652.00,1256.41 656.68,1256.36 661.36,1256.32 666.04,1256.29 670.72,1256.25 675.40,1256.21 680.07,1256.17 684.75,1256.14 689.43,1256.11 694.11,1256.07 698.79,1256.04 703.47,1256.01 708.15,1255.98 712.83,1255.95 717.51,1255.93 722.19,1255.90 726.86,1255.88 731.54,1255.85 736.22,1255.83 740.90,1255.81 745.58,1255.79 750.26,1255.77 754.94,1255.75 759.62,1255.73 764.30,1255.72 768.97,1255.70 773.65,1255.69 778.33,1255.68 783.01,1255.67 787.69,1255.66 792.37,1255.65 797.05,1255.64 801.73,1255.63 806.41,1255.63 811.09,1255.62 815.76,1255.62 820.44,1255.62 825.12,1255.62 829.80,1255.62 829.80,1264.56 825.12,1264.63 820.44,1264.70 815.76,1264.76 811.09,1264.83 806.41,1264.90 801.73,1264.96 797.05,1265.03 792.37,1265.09 787.69,1265.16 783.01,1265.22 778.33,1265.29 773.65,1265.35 768.97,1265.41 764.30,1265.47 759.62,1265.54 754.94,1265.60 750.26,1265.66 745.58,1265.72 740.90,1265.78 736.22,1265.84 731.54,1265.89 726.86,1265.95 722.19,1266.01 717.51,1266.07 712.83,1266.13 708.15,1266.18 703.47,1266.24 698.79,1266.29 694.11,1266.35 689.43,1266.40 684.75,1266.46 680.07,1266.51 675.40,1266.57 670.72,1266.62 666.04,1266.67 661.36,1266.72 656.68,1266.78 652.00,1266.83 647.32,1266.88 642.64,1266.93 637.96,1266.98 633.28,1267.03 628.61,1267.08 623.93,1267.13 619.25,1267.18 614.57,1267.23 609.89,1267.27 605.21,1267.32 600.53,1267.37 595.85,1267.42 591.17,1267.46 586.50,1267.51 581.82,1267.56 577.14,1267.60 572.46,1267.65 567.78,1267.69 563.10,1267.74 558.42,1267.78 553.74,1267.82 549.06,1267.87 544.38,1267.91 539.71,1267.95 535.03,1268.00 530.35,1268.04 525.67,1268.08 520.99,1268.12 516.31,1268.16 511.63,1268.20 506.95,1268.24 502.27,1268.28 497.59,1268.32 492.92,1268.36 488.24,1268.40 483.56,1268.44 478.88,1268.48 474.20,1268.52 469.52,1268.56 464.84,1268.60 460.16,1268.63 455.48,1268.67 450.81,1268.71 446.13,1268.75 441.45,1268.78 436.77,1268.82 432.09,1268.85 427.41,1268.89 422.73,1268.92 418.05,1268.96 413.37,1268.99 408.69,1269.03 404.02,1269.06 399.34,1269.10 394.66,1269.13 389.98,1269.16 385.30,1269.20 380.62,1269.23 375.94,1269.26 371.26,1269.30 366.58,1269.33 361.90,1269.36 357.23,1269.39 352.55,1269.42 347.87,1269.46 343.19,1269.49 338.51,1269.52 333.83,1269.55 329.15,1269.58 324.47,1269.61 319.79,1269.64 315.12,1269.67 310.44,1269.70 305.76,1269.73 301.08,1269.75 296.40,1269.78 291.72,1269.81 287.04,1269.84 282.36,1269.87 277.68,1269.90 273.00,1269.92" fill="#CD0000" fill-opacity="0.3"/>
<polygon points="273.00,1206.72 277.68,1207.15 282.36,1207.58 287.04,1207.99 291.72,1208.41 296.40,1208.81 301.08,1209.21 305.76,1209.61 310.44,1210.00 315.12,1210.38 319.79,1210.76 324.47,1211.14 329.15,1211.51 333.83,1211.87 338.51,1212.23 343.19,1212.59 347.87,1212.94 352.55,1213.28 357.23,1213.62 361.90,1213.96 366.58,1214.29 371.26,1214.61 375.94,1214.94 380.62,1215.25 385.30,1215.57 389.98,1215.87 394.66,1216.18 399.34,1216.48 404.02,1216.77 408.69,1217.07 413.37,1217.35 418.05,1217.64 422.73,1217.92 427.41,1218.19 432.09,1218.46 436.77,1218.73 441.45,1219.00 446.13,1219.26 450.81,1219.51 455.48,1219.76 460.16,1220.01 464.84,1220.26 469.52,1220.50 474.20,1220.74 478.88,1220.97 483.56,1221.21 488.24,1221.43 492.92,1221.66 497.59,1221.88 502.27,1222.10 506.95,1222.31 511.63,1222.52 516.31,1222.73 520.99,1222.94 525.67,1223.14 530.35,1223.34 535.03,1223.53 539.71,1223.72 544.38,1223.91 549.06,1224.10 553.74,1224.28 558.42,1224.46 563.10,1224.64 567.78,1224.82 572.46,1224.99 577.14,1225.16 581.82,1225.32 586.50,1225.49 591.17,1225.65 595.85,1225.80 600.53,1225.96 605.21,1226.11 609.89,1226.26 614.57,1226.41 619.25,1226.55 623.93,1226.69 628.61,1226.83 633.28,1226.97 637.96,1227.10 642.64,1227.24 647.32,1227.36 652.00,1227.49 656.68,1227.61 661.36,1227.74 666.04,1227.86 670.72,1227.97 675.40,1228.09 680.07,1228.20 684.75,1228.31 689.43,1228.42 694.11,1228.52 698.79,1228.62 703.47,1228.72 708.15,1228.82 712.83,1228.92 717.51,1229.01 722.19,1229.10 726.86,1229.19 731.54,1229.28 736.22,1229.36 740.90,1229.44 745.58,1229.52 750.26,1229.60 754.94,1229.68 759.62,1229.75 764.30,1229.82 768.97,1229.89 773.65,1229.96 778.33,1230.02 783.01,1230.09 787.69,1230.15 792.37,1230.21 797.05,1230.26 801.73,1230.32 806.41,1230.37 811.09,1230.42 815.76,1230.47 820.44,1230.52 825.12,1230.56 829.80,1230.60 829.80,1264.08 825.12,1264.04 820.44,1263.99 815.76,1263.95 811.09,1263.90 806.41,1263.85 801.73,1263.81 797.05,1263.76 792.37,1263.71 787.69,1263.67 783.01,1263.62 778.33,1263.57 773.65,1263.52 768.97,1263.48 764.30,1263.43 759.62,1263.38 754.94,1263.33 750.26,1263.28 745.58,1263.23 740.90,1263.18 736.22,1263.13 731.54,1263.08 726.86,1263.03 722.19,1262.98 717.51,1262.93 712.83,1262.88 708.15,1262.83 703.47,1262.78 698.79,1262.73 694.11,1262.67 689.43,1262.62 684.75,1262.57 680.07,1262.52 675.40,1262.46 670.72,1262.41 666.04,1262.36 661.36,1262.30 656.68,1262.25 652.00,1262.20 647.32,1262.14 642.64,1262.09 637.96,1262.03 633.28,1261.98 628.61,1261.92 623.93,1261.86 619.25,1261.81 614.57,1261.75 609.89,1261.70 605.21,1261.64 600.53,1261.58 595.85,1261.52 591.17,1261.47 586.50,1261.41 581.82,1261.35 577.14,1261.29 572.46,1261.23 567.78,1261.17 563.10,1261.11 558.42,1261.05 553.74,1260.99 549.06,1260.93 544.38,1260.87 539.71,1260.81 535.03,1260.75 530.35,1260.69 525.67,1260.63 520.99,1260.57 516.31,1260.50 511.63,1260.44 506.95,1260.38 502.27,1260.31 497.59,1260.25 492.92,1260.19 488.24,1260.12 483.56,1260.06 478.88,1259.99 474.20,1259.93 469.52,1259.86 464.84,1259.80 460.16,1259.73 455.48,1259.67 450.81,1259.60 446.13,1259.53 441.45,1259.46 436.77,1259.40 432.09,1259.33 427.41,1259.26 422.73,1259.19 418.05,1259.12 413.37,1259.05 408.69,1258.98 404.02,1258.91 399.34,1258.84 394.66,1258.77 389.98,1258.70 385.30,1258.63 380.62,1258.56 375.94,1258.49 371.26,1258.41 366.58,1258.34 361.90,1258.27 357.23,1258.20 352.55,1258.12 347.87,1258.05 343.19,1257.97 338.51,1257.90 333.83,1257.82 329.15,1257.75 324.47,1257.67 319.79,1257.60 315.12,1257.52 310.44,1257.44 305.76,1257.36 301.08,1257.29 296.40,1257.21 291.72,1257.13 287.04,1257.05 282.36,1256.97 277.68,1256.89 273.00,1256.81" fill="#F8F800" fill-opacity="0.3"/>
<polygon points="273.00,793.57 277.68,803.48 282.36,813.12 287.04,822.48 291.72,831.59 296.40,840.44 301.08,849.06 305.76,857.45 310.44,865.62 315.12,873.58 319.79,881.34 324.47,888.90 329.15,896.28 333.83,903.47 338.51,910.49 343.19,917.34 347.87,924.04 352.55,930.57 357.23,936.96 361.90,943.20 366.58,949.30 371.26,955.27 375.94,961.10 380.62,966.81 385.30,972.40 389.98,977.87 394.66,983.22 399.34,988.46 404.02,993.60 408.69,998.63 413.37,1003.56 418.05,1008.40 422.73,1013.13 427.41,1017.78 432.09,1022.33 436.77,1026.80 441.45,1031.18 446.13,1035.48 450.81,1039.70 455.48,1043.84 460.16,1047.90 464.84,1051.89 469.52,1055.81 474.20,1059.65 478.88,1063.42 483.56,1067.13 488.24,1070.77 492.92,1074.34 497.59,1077.85 502.27,1081.30 506.95,1084.68 511.63,1088.01 516.31,1091.27 520.99,1094.48 525.67,1097.63 530.35,1100.73 535.03,1103.77 539.71,1106.76 544.38,1109.69 549.06,1112.57 553.74,1115.41 558.42,1118.19 563.10,1120.92 567.78,1123.60 572.46,1126.24 577.14,1128.83 581.82,1131.37 586.50,1133.86 591.17,1136.31 595.85,1138.72 600.53,1141.08 605.21,1143.40 609.89,1145.68 614.57,1147.91 619.25,1150.10 623.93,1152.26 628.61,1154.37 633.28,1156.44 637.96,1158.47 642.64,1160.46 647.32,1162.42 652.00,1164.34 656.68,1166.22 661.36,1168.06 666.04,1169.86 670.72,1171.64 675.40,1173.37 680.07,1175.07 684.75,1176.73 689.43,1178.37 694.11,1179.96 698.79,1181.53 703.47,1183.06 708.15,1184.55 712.83,1186.02 717.51,1187.45 722.19,1188.86 726.86,1190.23 731.54,1191.57 736.22,1192.88 740.90,1194.16 745.58,1195.41 750.26,1196.64 754.94,1197.83 759.62,1199.00 764.30,1200.13 768.97,1201.24 773.65,1202.32 778.33,1203.38 783.01,1204.41 787.69,1205.41 792.37,1206.38 797.05,1207.33 801.73,1208.26 806.41,1209.16 811.09,1210.03 815.76,1210.88 820.44,1211.70 825.12,1212.50 829.80,1213.28 829.80,1257.41 825.12,1257.10 820.44,1256.80 815.76,1256.49 811.09,1256.17 806.41,1255.85 801.73,1255.53 797.05,1255.20 792.37,1254.87 787.69,1254.53 783.01,1254.20 778.33,1253.85 773.65,1253.50 768.97,1253.15 764.30,1252.80 759.62,1252.44 754.94,1252.07 750.26,1251.70 745.58,1251.33 740.90,1250.95 736.22,1250.57 731.54,1250.18 726.86,1249.79 722.19,1249.39 717.51,1248.99 712.83,1248.59 708.15,1248.18 703.47,1247.77 698.79,1247.35 694.11,1246.92 689.43,1246.49 684.75,1246.06 680.07,1245.62 675.40,1245.18 670.72,1244.73 666.04,1244.28 661.36,1243.82 656.68,1243.36 652.00,1242.89 647.32,1242.42 642.64,1241.94 637.96,1241.45 633.28,1240.97 628.61,1240.47 623.93,1239.97 619.25,1239.47 614.57,1238.95 609.89,1238.44 605.21,1237.92 600.53,1237.39 595.85,1236.85 591.17,1236.31 586.50,1235.77 581.82,1235.21 577.14,1234.66 572.46,1234.09 567.78,1233.52 563.10,1232.94 558.42,1232.36 553.74,1231.77 549.06,1231.18 544.38,1230.57 539.71,1229.96 535.03,1229.35 530.35,1228.72 525.67,1228.09 520.99,1227.45 516.31,1226.81 511.63,1226.15 506.95,1225.49 502.27,1224.83 497.59,1224.15 492.92,1223.47 488.24,1222.78 483.56,1222.08 478.88,1221.37 474.20,1220.65 469.52,1219.93 464.84,1219.19 460.16,1218.45 455.48,1217.70 450.81,1216.94 446.13,1216.17 441.45,1215.39 436.77,1214.61 432.09,1213.81 427.41,1213.00 422.73,1212.18 418.05,1211.35 413.37,1210.51 408.69,1209.66 404.02,1208.80 399.34,1207.93 394.66,1207.05 389.98,1206.16 385.30,1205.25 380.62,1204.33 375.94,1203.40 371.26,1202.46 366.58,1201.51 361.90,1200.54 357.23,1199.56 352.55,1198.56 347.87,1197.56 343.19,1196.53 338.51,1195.50 333.83,1194.45 329.15,1193.38 324.47,1192.30 319.79,1191.20 315.12,1190.09 310.44,1188.96 305.76,1187.82 301.08,1186.66 296.40,1185.48 291.72,1184.29 287.04,1183.07 282.36,1181.84 277.68,1180.59 273.00,1179.32" fill="#0000CD" fill-opacity="0.3"/>
<rect x="653.5" y="752.8" width="5" height="2.2" fill="#666" opacity="0.8"/>
<rect x="69.75" y="99.4" width="1758.5" height="1299.2" fill="none" stroke="#000" stroke-width="8.8"/>
<rect x="1300" y="1004.7" width="54.5" height="53.5" fill="#F0B3B3"/>
<rect x="1300" y="1061.6" width="54.5" height="53.5" fill="#FCFCB4"/>
<rect x="1300" y="1119.4" width="54.5" height="52.6" fill="#B3B3F0"/>
<rect x="1303.1" y="1026.3" width="48.3" height="8.6" fill="#C80000"/>
<rect x="1303.1" y="1084.0" width="48.3" height="9.2" fill="#FFFF00"/>
<rect x="1303.1" y="1141.9" width="48.3" height="8.6" fill="#0000A8"/>
<rect x="2082.3" y="365" width="115.4" height="113.9" fill="#F0B3B3"/>
<rect x="2082.3" y="485.7" width="115.4" height="114.9" fill="#FCFCB4"/>
<rect x="2082.3" y="611" width="115.4" height="112.1" fill="#B3B3F0"/>
<rect x="2088.5" y="410.5" width="102.5" height="19.2" fill="#C80000"/>
<rect x="2088.5" y="533.3" width="102.5" height="20" fill="#FFFF00"/>
<rect x="2088.5" y="657.5" width="102.5" height="20" fill="#0000A8"/>
<circle cx="2147" cy="970.6" r="15.3" fill="#D40000"/>
<circle cx="2147" cy="1065.3" r="15.2" fill="#FFFF00"/>
<circle cx="2147" cy="1159.6" r="15.3" fill="#0000CC"/>
<text x="914.60" y="76.80" font-size="44.5" font-weight="bold" fill="#000" textLength="66.84" lengthAdjust="spacingAndGlyphs">Fall</text>
<text x="133.39" y="184.62" font-size="59.64" font-weight="normal" fill="#000" textLength="31.91" lengthAdjust="spacingAndGlyphs">d</text>
<text x="169.15" y="182.70" font-size="57.96" font-weight="normal" fill="#000" textLength="14.32" lengthAdjust="spacingAndGlyphs">)</text>
<text x="1026.96" y="184.34" font-size="57.31" font-weight="normal" fill="#000" textLength="30.70" lengthAdjust="spacingAndGlyphs">e</text>
<text x="1061.86" y="182.48" font-size="58.07" font-weight="normal" fill="#000" textLength="13.44" lengthAdjust="spacingAndGlyphs">)</text>
<text x="132.79" y="834.90" font-size="60.67" font-weight="normal" fill="#000" textLength="19.91" lengthAdjust="spacingAndGlyphs">f</text>
<text x="156.65" y="833.79" font-size="58.50" font-weight="normal" fill="#000" textLength="13.94" lengthAdjust="spacingAndGlyphs">)</text>
<text x="226.81" y="246.50" font-size="24.4" font-weight="normal" fill="#858585" textLength="14.10" lengthAdjust="spacingAndGlyphs">6</text>
<text x="225.16" y="379.50" font-size="24.4" font-weight="normal" fill="#858585" textLength="15.45" lengthAdjust="spacingAndGlyphs">4</text>
<text x="226.25" y="509.30" font-size="24.4" font-weight="normal" fill="#858585" textLength="14.89" lengthAdjust="spacingAndGlyphs">2</text>
<text x="225.95" y="642.00" font-size="24.4" font-weight="normal" fill="#858585" textLength="14.89" lengthAdjust="spacingAndGlyphs">0</text>
<text x="364.62" y="679.80" font-size="24.4" font-weight="normal" fill="#858585" textLength="45.80" lengthAdjust="spacingAndGlyphs">-2.5</text>
<text x="504.77" y="679.80" font-size="24.4" font-weight="normal" fill="#858585" textLength="36.66" lengthAdjust="spacingAndGlyphs">0.0</text>
<text x="660.31" y="679.80" font-size="24.4" font-weight="normal" fill="#858585" textLength="35.56" lengthAdjust="spacingAndGlyphs">2.5</text>
<text x="799.24" y="680.00" font-size="24.4" font-weight="normal" fill="#858585" textLength="36.69" lengthAdjust="spacingAndGlyphs">5.0</text>
<text x="1123.98" y="214.60" font-size="24.4" font-weight="normal" fill="#858585" textLength="14.46" lengthAdjust="spacingAndGlyphs">6</text>
<text x="1122.87" y="356.50" font-size="24.4" font-weight="normal" fill="#858585" textLength="15.23" lengthAdjust="spacingAndGlyphs">4</text>
<text x="1123.64" y="497.50" font-size="24.4" font-weight="normal" fill="#858585" textLength="15.02" lengthAdjust="spacingAndGlyphs">2</text>
<text x="1123.45" y="638.50" font-size="24.4" font-weight="normal" fill="#858585" textLength="14.89" lengthAdjust="spacingAndGlyphs">0</text>
<text x="1145.37" y="679.80" font-size="24.4" font-weight="normal" fill="#858585" textLength="47.71" lengthAdjust="spacingAndGlyphs">-5.0</text>
<text x="1311.43" y="679.80" font-size="24.4" font-weight="normal" fill="#858585" textLength="45.38" lengthAdjust="spacingAndGlyphs">-2.5</text>
<text x="1469.78" y="679.80" font-size="24.4" font-weight="normal" fill="#858585" textLength="36.34" lengthAdjust="spacingAndGlyphs">0.0</text>
<text x="1631.01" y="679.80" font-size="24.4" font-weight="normal" fill="#858585" textLength="35.56" lengthAdjust="spacingAndGlyphs">2.5</text>
<text x="222.12" y="808.80" font-size="24.4" font-weight="normal" fill="#858585" textLength="13.87" lengthAdjust="spacingAndGlyphs">8</text>
<text x="222.29" y="926.80" font-size="24.4" font-weight="normal" fill="#858585" textLength="14.34" lengthAdjust="spacingAndGlyphs">6</text>
<text x="221.39" y="1048.00" font-size="24.4" font-weight="normal" fill="#858585" textLength="14.90" lengthAdjust="spacingAndGlyphs">4</text>
<text x="222.06" y="1163.20" font-size="24.4" font-weight="normal" fill="#858585" textLength="14.77" lengthAdjust="spacingAndGlyphs">2</text>
<text x="221.98" y="1283.50" font-size="24.4" font-weight="normal" fill="#858585" textLength="14.54" lengthAdjust="spacingAndGlyphs">0</text>
<text x="253.02" y="1316.60" font-size="24.4" font-weight="normal" fill="#858585" textLength="15.36" lengthAdjust="spacingAndGlyphs">0</text>
<text x="366.65" y="1316.60" font-size="24.4" font-weight="normal" fill="#858585" textLength="58.06" lengthAdjust="spacingAndGlyphs">5000</text>
<text x="485.54" y="1316.60" font-size="24.4" font-weight="normal" fill="#858585" textLength="71.57" lengthAdjust="spacingAndGlyphs">10000</text>
<text x="616.05" y="1316.60" font-size="24.4" font-weight="normal" fill="#858585" textLength="71.04" lengthAdjust="spacingAndGlyphs">15000</text>
<text x="743.70" y="1316.60" font-size="24.4" font-weight="normal" fill="#858585" textLength="72.12" lengthAdjust="spacingAndGlyphs">20000</text>
<text x="396.59" y="720.70" font-size="29.5" font-weight="normal" fill="#000" textLength="282.64" lengthAdjust="spacingAndGlyphs">Zonal (E/W) wind (m s</text>
<text x="680.50" y="711.50" font-size="18.3" font-weight="normal" fill="#000" textLength="6.00" lengthAdjust="spacingAndGlyphs">-</text>
<text x="686.64" y="711.00" font-size="18.3" font-weight="normal" fill="#000" textLength="9.93" lengthAdjust="spacingAndGlyphs">1</text>
<text x="698.87" y="720.70" font-size="29.5" font-weight="normal" fill="#000" textLength="7.28" lengthAdjust="spacingAndGlyphs">)</text>
<text x="1281.40" y="720.70" font-size="29.5" font-weight="normal" fill="#000" textLength="344.86" lengthAdjust="spacingAndGlyphs">Meridional (N/S) wind (m s</text>
<text x="1626.21" y="711.50" font-size="18.3" font-weight="normal" fill="#000" textLength="6.68" lengthAdjust="spacingAndGlyphs">-</text>
<text x="1633.37" y="711.00" font-size="18.3" font-weight="normal" fill="#000" textLength="10.45" lengthAdjust="spacingAndGlyphs">1</text>
<text x="1646.09" y="720.70" font-size="29.5" font-weight="normal" fill="#000" textLength="6.41" lengthAdjust="spacingAndGlyphs">)</text>
<text x="391.03" y="1371.50" font-size="29.5" font-weight="normal" fill="#000" textLength="304.06" lengthAdjust="spacingAndGlyphs">Cloud ceiling height (m)</text>
<text transform="translate(190.90,519.70) rotate(-90)" x="-2.36" y="0" font-size="28.5" font-weight="normal" fill="#000" textLength="246.71" lengthAdjust="spacingAndGlyphs">Predicted collisions</text>
<text transform="translate(1083.40,521.50) rotate(-90)" x="-2.38" y="0" font-size="28.5" font-weight="normal" fill="#000" textLength="248.13" lengthAdjust="spacingAndGlyphs">Predicted collisions</text>
<text transform="translate(192.50,1181.50) rotate(-90)" x="-2.35" y="0" font-size="28.5" font-weight="normal" fill="#000" textLength="245.39" lengthAdjust="spacingAndGlyphs">Predicted collisions</text>
<text x="1273.95" y="977.10" font-size="29" font-weight="normal" fill="#000" textLength="225.91" lengthAdjust="spacingAndGlyphs">Migration density</text>
<text x="1387.26" y="1039.70" font-size="25" font-weight="normal" fill="#000" textLength="47.77" lengthAdjust="spacingAndGlyphs">Low</text>
<text x="1387.09" y="1098.40" font-size="25" font-weight="normal" fill="#000" textLength="99.96" lengthAdjust="spacingAndGlyphs">Medium</text>
<text x="1387.25" y="1156.50" font-size="25" font-weight="normal" fill="#000" textLength="53.85" lengthAdjust="spacingAndGlyphs">High</text>
<text x="2024.06" y="309.00" font-size="62.5" font-weight="normal" fill="#000" textLength="483.27" lengthAdjust="spacingAndGlyphs">Migration density</text>
<text x="2268.08" y="441.90" font-size="53.8" font-weight="normal" fill="#000" textLength="100.98" lengthAdjust="spacingAndGlyphs">Low</text>
<text x="2267.70" y="566.10" font-size="53.8" font-weight="normal" fill="#000" textLength="212.44" lengthAdjust="spacingAndGlyphs">Medium</text>
<text x="2268.03" y="691.30" font-size="53.8" font-weight="normal" fill="#000" textLength="114.48" lengthAdjust="spacingAndGlyphs">High</text>
<text x="2223.94" y="994.70" font-size="54.6" font-weight="normal" fill="#000" textLength="102.03" lengthAdjust="spacingAndGlyphs">Low</text>
<text x="2223.62" y="1090.00" font-size="54.6" font-weight="normal" fill="#000" textLength="211.71" lengthAdjust="spacingAndGlyphs">Medium</text>
<text x="2223.98" y="1185.10" font-size="54.6" font-weight="normal" fill="#000" textLength="113.40" lengthAdjust="spacingAndGlyphs">High</text>
</svg>
</body></html>
